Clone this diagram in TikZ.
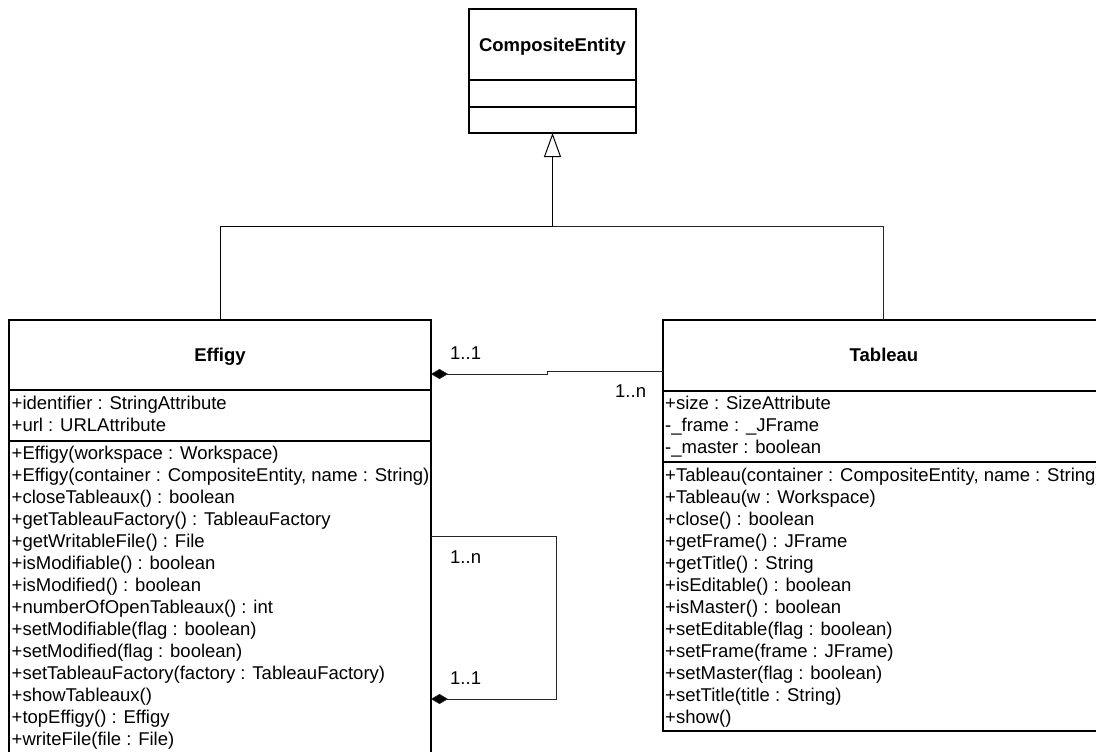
\documentclass[tikz,border=0pt]{standalone}
\usepackage{fontspec}
\setmainfont{Liberation Sans}
\usetikzlibrary{arrows.meta}
\tikzset{
  classbox/.style={draw=black, line width=1.2pt, fill=white, inner sep=0pt, outer sep=0pt, anchor=north west},
  sep/.style={draw=black, line width=1.2pt},
  row/.style={anchor=base west, inner sep=0pt, font=\fontsize{18.5}{22}\selectfont},
  title/.style={anchor=base, inner sep=0pt, font=\fontsize{18.5}{22}\selectfont\bfseries},
  mult/.style={anchor=base west, inner sep=0pt, font=\fontsize{18.5}{22}\selectfont},
  inherit/.style={draw=black, line width=1pt, -{Triangle[open, length=24pt, width=17pt, line width=1pt]}},
  assoc/.style={draw=black!85, line width=1pt},
  comp/.style={draw=black!85, line width=1pt, -{Diamond[length=17pt, width=10pt, fill=black, line width=0.6pt]}}
}
\begin{document}
\begin{tikzpicture}[x=1pt, y=1pt]
\useasboundingbox (0,0) rectangle (1096,-752);
\clip (0,0) rectangle (1096,-752);
\fill[white] (0,0) rectangle (1096,-752);

% CompositeEntity
\node[classbox, minimum width=167pt, minimum height=124pt] (ce) at (469,-9) {};
\draw[sep] (469,-80) -- (636,-80);
\draw[sep] (469,-107) -- (636,-107);
\node[title] (cet) at (552.5,-52) {CompositeEntity};

% Effigy
\node[classbox, minimum width=422pt, minimum height=460pt] (eff) at (9,-320) {};
\draw[sep] (9,-390) -- (431,-390);
\draw[sep] (9,-441) -- (431,-441);
\node[title] (efft) at (220,-361.5) {Effigy};
\node[row] (e1) at (11.5,-409.5) {+identifier : StringAttribute};
\node[row] (e2) at (11.5,-431.5) {+url : URLAttribute};
\node[row] (m1) at (11.5,-459.5) {+Effigy(workspace : Workspace)};
\node[row] (m2) at (11.5,-481.5) {+Effigy(container : CompositeEntity, name : String)};
\node[row] (m3) at (11.5,-503.5) {+closeTableaux() : boolean};
\node[row] (m4) at (11.5,-525.5) {+getTableauFactory() : TableauFactory};
\node[row] (m5) at (11.5,-547.5) {+getWritableFile() : File};
\node[row] (m6) at (11.5,-569.5) {+isModifiable() : boolean};
\node[row] (m7) at (11.5,-591.5) {+isModified() : boolean};
\node[row] (m8) at (11.5,-613.5) {+numberOfOpenTableaux() : int};
\node[row] (m9) at (11.5,-635.5) {+setModifiable(flag : boolean)};
\node[row] (m10) at (11.5,-657.5) {+setModified(flag : boolean)};
\node[row] (m11) at (11.5,-679.5) {+setTableauFactory(factory : TableauFactory)};
\node[row] (m12) at (11.5,-701.5) {+showTableaux()};
\node[row] (m13) at (11.5,-723.5) {+topEffigy() : Effigy};
\node[row] (m14) at (11.5,-745.5) {+writeFile(file : File)};

% Tableau
\node[classbox, minimum width=440pt, minimum height=411pt] (tab) at (663,-320) {};
\draw[sep] (663,-391) -- (1103,-391);
\draw[sep] (663,-462) -- (1103,-462);
\node[title] (tabt) at (884,-361.5) {Tableau};
\node[row] (t1) at (665,-409.5) {+size : SizeAttribute};
\node[row] (t2) at (665,-431.5) {-\_frame : \_JFrame};
\node[row] (t3) at (665,-453.5) {-\_master : boolean};
\node[row] (n1) at (665,-481.5) {+Tableau(container : CompositeEntity, name : String)};
\node[row] (n2) at (665,-503.5) {+Tableau(w : Workspace)};
\node[row] (n3) at (665,-525.5) {+close() : boolean};
\node[row] (n4) at (665,-547.5) {+getFrame() : JFrame};
\node[row] (n5) at (665,-569.5) {+getTitle() : String};
\node[row] (n6) at (665,-591.5) {+isEditable() : boolean};
\node[row] (n7) at (665,-613.5) {+isMaster() : boolean};
\node[row] (n8) at (665,-635.5) {+setEditable(flag : boolean)};
\node[row] (n9) at (665,-657.5) {+setFrame(frame : JFrame)};
\node[row] (n10) at (665,-679.5) {+setMaster(flag : boolean)};
\node[row] (n11) at (665,-701.5) {+setTitle(title : String)};
\node[row] (n12) at (665,-723.5) {+show()};

% Generalisation
\coordinate (junc) at (552.5,-226);
\draw[assoc] (tab.north) |- (junc);
\draw[inherit] (eff.north) |- (junc) -- (ce.south);

% Composition Effigy - Tableau
\coordinate (bend1) at (547,-371);
\coordinate (bend2) at (547,-374);
\draw[comp] (tab.west |- bend1) -- (bend1) -- (bend2) -- (eff.east |- bend2);
\node[mult] (l11) at (450,-359.5) {1..1};
\node[mult] (l1n) at (615,-397.5) {1..n};

% Self composition
\coordinate (loopa) at (556,-536);
\coordinate (loopb) at (556,-699);
\draw[comp] (eff.east |- loopa) -- (loopa) -- (loopb) -- (eff.east |- loopb);
\node[mult] (s1n) at (450,-563.5) {1..n};
\node[mult] (s11) at (450,-684.5) {1..1};
\end{tikzpicture}
\end{document}
